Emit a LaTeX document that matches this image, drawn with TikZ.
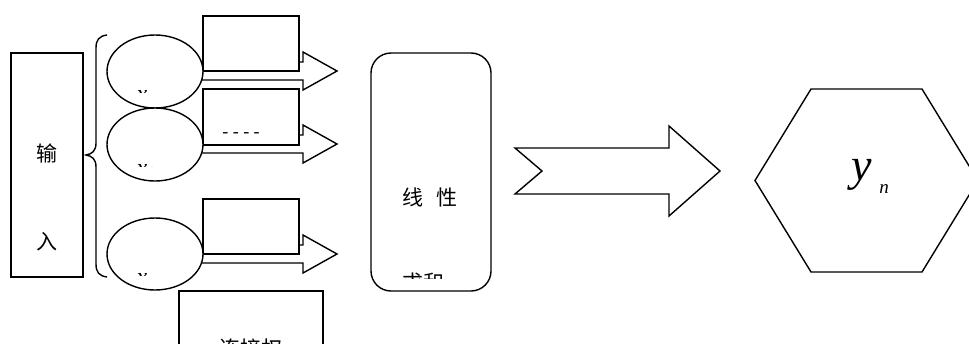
\documentclass[tikz,border=0pt]{standalone}
\usepackage{fontspec}
\setmainfont{Liberation Serif}
\newfontfamily\cjk{Noto Sans CJK SC}
\usetikzlibrary{shapes.geometric}
\begin{document}
\begin{tikzpicture}[x=1pt,y=-1pt,line width=1.4pt,line join=miter,
  box/.style={draw,fill=white,inner sep=0pt},
  oval/.style={draw,fill=white,ellipse,inner sep=0pt,minimum width=96pt,minimum height=73pt},
  wshape/.style={draw,fill=white},
  cjktext/.style={font=\cjk\fontsize{21}{21}\selectfont,inner sep=0pt},
  frag/.style={font=\fontsize{24}{24}\selectfont\itshape,inner sep=0pt,anchor=base west}]
\useasboundingbox (0,0) rectangle (969,343);

% input box
\node[box,minimum width=72pt,minimum height=224pt] (in) at (47,165) {};
\node[cjktext] (t1) at (47,153) {输};
\node[cjktext] (t2) at (47,242) {入};

% brace
\draw (107,35) .. controls (99,36) and (96,40) .. (96,48) -- (96,143)
  .. controls (96,151) and (92,154) .. (86,155)
  .. controls (92,156) and (96,159) .. (96,167) -- (96,264)
  .. controls (96,272) and (99,276) .. (107,277);

% small arrows
\draw[wshape] (180,62) -- (303,62) -- (303,52) -- (337,71) -- (303,90) -- (303,80) -- (180,80) -- cycle;
\draw[wshape] (180,135) -- (303,135) -- (303,125) -- (337,144) -- (303,163) -- (303,153) -- (180,153) -- cycle;
\draw[wshape] (180,245) -- (303,245) -- (303,235) -- (337,254) -- (303,273) -- (303,263) -- (180,263) -- cycle;

% weight boxes
\node[box,minimum width=96pt,minimum height=55pt] (w1) at (251,43.5) {};
\node[box,minimum width=96pt,minimum height=56pt] (w2) at (251,117) {};
\node[box,minimum width=96pt,minimum height=55pt] (w3) at (251,226.5) {};
\node[font=\fontsize{18}{18}\selectfont,inner sep=0pt] (w2t) at (241,135) {- - - -};

% ellipses
\node[oval] (x1) at (155,71.5) {};
\node[oval] (x2) at (155,144.5) {};
\node[oval,minimum height=72pt] (x3) at (155,254) {};
\begin{scope}
  \clip (107,35) rectangle (203,92);
  \node[frag] (x1t) at (136,101) {x\textsubscript{1}};
\end{scope}
\begin{scope}
  \clip (107,110) rectangle (203,166);
  \node[frag] (x2t) at (136,175) {x\textsubscript{2}};
\end{scope}
\begin{scope}
  \clip (107,220) rectangle (203,275.5);
  \node[frag] (x3t) at (136,284) {x\textsubscript{n}};
\end{scope}

% connection weight box (cut by page)
\draw (179,360) -- (179,291) -- (323,291) -- (323,360);
\node[cjktext] (cw) at (251,349) {连接权};

% linear sum box
\node[box,rounded corners=20pt,minimum width=120pt,minimum height=238pt] (sum) at (431,172) {};
\node[cjktext] (s1) at (430,197) {线\hspace{0.6em}性};
\begin{scope}
  \clip (372,54) rectangle (490,278);
  \node[cjktext] (s2) at (423,283) {求和};
\end{scope}

% big arrow
\draw[wshape] (515,148) -- (669,148) -- (669,126) -- (720,171) -- (669,216)
  -- (669,194) -- (515,194) -- (542,171) -- cycle;

% hexagon
\draw[wshape] (811,89) -- (922,89) -- (978,180.5) -- (922,272) -- (811,272) -- (755,180.5) -- cycle;
\node[inner sep=0pt,font=\fontsize{46}{46}\selectfont\itshape] (y) at (862,175) {y};
\node[inner sep=0pt,font=\fontsize{19}{19}\selectfont\itshape] (n) at (884,189) {n};
\end{tikzpicture}
\end{document}
